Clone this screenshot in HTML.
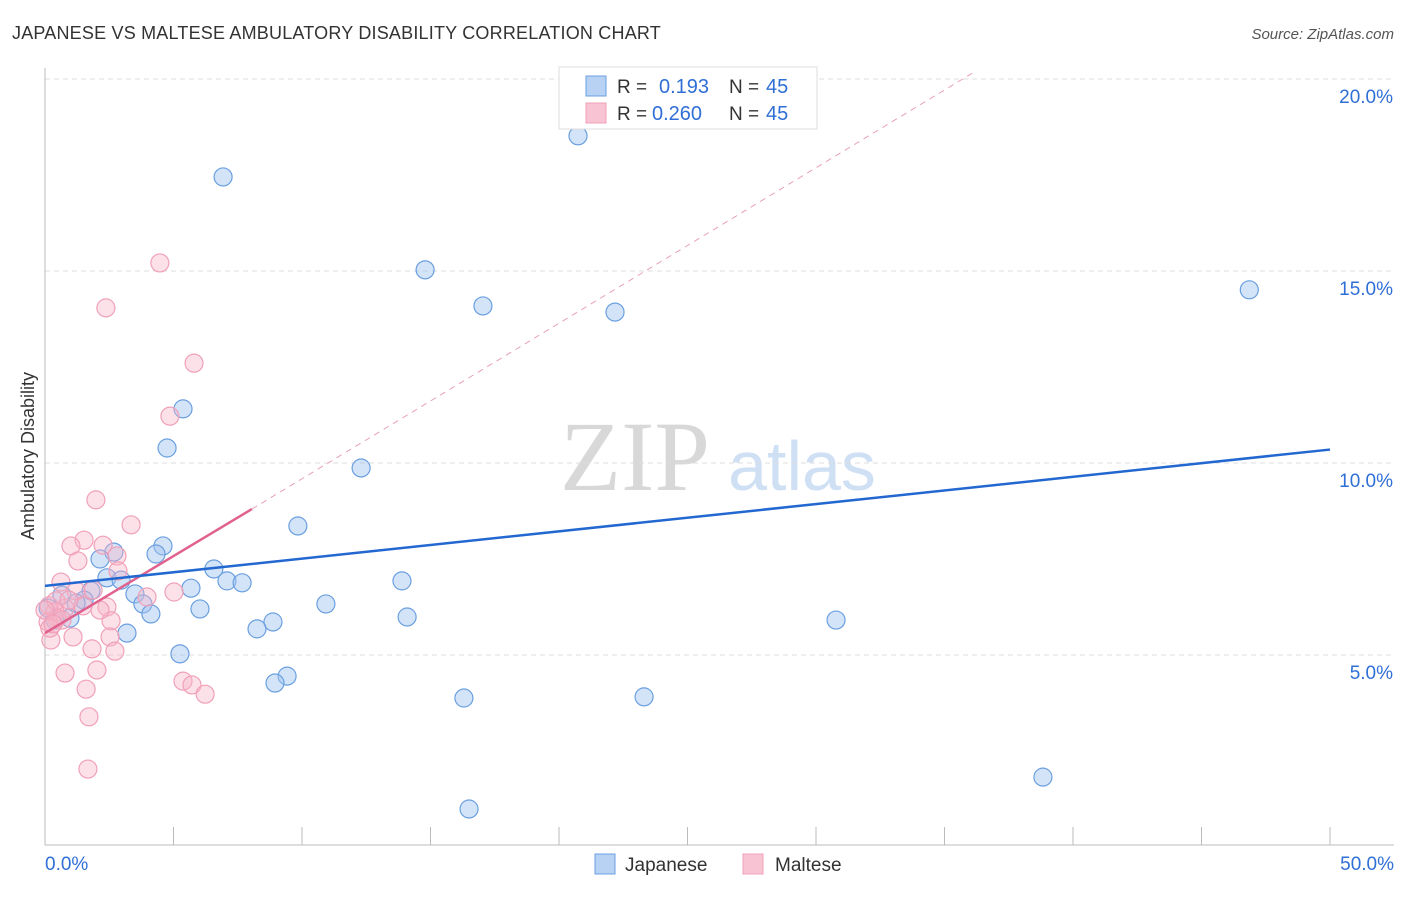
<!DOCTYPE html>
<html><head><meta charset="utf-8"><style>
body{margin:0;background:#fff;font-family:"Liberation Sans",sans-serif;}
svg text{font-family:"Liberation Sans",sans-serif;}
</style></head><body>
<svg id="c" width="1406" height="892" xmlns="http://www.w3.org/2000/svg">
<text x="12" y="39" font-size="18" fill="#333" letter-spacing="0.2">JAPANESE VS MALTESE AMBULATORY DISABILITY CORRELATION CHART</text>
<text x="1394" y="39" font-size="15" fill="#555" font-style="italic" text-anchor="end">Source: ZipAtlas.com</text>
<text x="635" y="490" font-size="100" fill="#d8d8d8" style="font-family:'Liberation Serif',serif" text-anchor="middle">ZIP</text>
<text x="802" y="490" font-size="70" fill="#cfe0f5" text-anchor="middle">atlas</text>
<text x="34" y="456" font-size="18" fill="#333" text-anchor="middle" transform="rotate(-90 34 456)">Ambulatory Disability</text>
<g id="grid"></g><g id="marks"></g>
<g>
<rect x="559" y="67" width="258" height="62" fill="#fff" stroke="#ddd"/>
<rect x="586" y="76" width="20" height="20" fill="#b8d2f4" stroke="#6a9fe0"/>
<rect x="586" y="103" width="20" height="20" fill="#f8c4d4" stroke="#f0a0b8"/>
<text x="617" y="93" font-size="19" fill="#333">R =</text>
<text x="659" y="93" font-size="20" fill="#2f6fd6">0.193</text>
<text x="729" y="93" font-size="19" fill="#333">N =</text>
<text x="766" y="93" font-size="20" fill="#2f6fd6">45</text>
<text x="617" y="120" font-size="19" fill="#333">R =</text>
<text x="652" y="120" font-size="20" fill="#2f6fd6">0.260</text>
<text x="729" y="120" font-size="19" fill="#333">N =</text>
<text x="766" y="120" font-size="20" fill="#2f6fd6">45</text>
</g>
<g>
<rect x="595" y="854" width="20" height="20" fill="#b8d2f4" stroke="#6a9fe0"/>
<text x="625" y="871" font-size="19" fill="#333">Japanese</text>
<rect x="743" y="854" width="20" height="20" fill="#f8c4d4" stroke="#f0a0b8"/>
<text x="775" y="871" font-size="19" fill="#333">Maltese</text>
</g>
</svg>
<script>
const yTicks=[5,10,15,20];
const xTickLabels=["0.0%","50.0%"];
const japaneseX=[6.93,20.74,14.79,17.04,22.18,46.86,5.37,4.75,12.30,9.84,4.59,4.32,2.68,2.14,2.41,2.96,6.57,7.08,7.67,5.68,3.50,1.79,0.66,3.81,4.12,6.03,10.93,13.89,14.09,30.78,8.87,8.25,3.19,5.25,9.42,8.95,16.30,23.31,38.83,16.50,1.52,0.97,0.39,0.12,1.21];
const japaneseY=[17.45,18.52,15.03,14.09,13.93,14.51,11.41,10.39,9.87,8.36,7.84,7.63,7.68,7.50,7.01,6.95,7.24,6.93,6.88,6.74,6.59,6.67,6.56,6.33,6.07,6.20,6.33,6.93,5.99,5.91,5.86,5.68,5.57,5.03,4.45,4.27,3.88,3.91,1.82,0.99,6.43,5.96,5.91,6.22,6.35];
const malteseX=[4.47,2.37,5.80,4.86,1.98,3.35,1.52,1.01,2.26,1.28,2.80,2.84,0.62,1.21,1.87,3.97,5.02,2.41,1.48,0.78,2.57,2.53,2.72,1.83,1.09,0.23,0.16,0.39,0.47,0.12,0.66,0.19,0.78,2.02,1.60,5.37,5.72,6.23,1.71,1.67,0.43,0.0,0.93,2.14,0.31];
const malteseY=[15.21,14.04,12.60,11.22,9.04,8.39,7.99,7.84,7.86,7.45,7.58,7.19,6.90,6.67,6.69,6.51,6.64,6.25,6.28,6.22,5.89,5.47,5.10,5.16,5.47,5.39,6.28,6.12,5.96,5.86,5.91,5.70,4.53,4.61,4.11,4.32,4.22,3.98,3.39,2.03,6.41,6.17,6.43,6.17,5.81];
const jTrend=[6.8,10.35], mTrend=[5.57,8.8], mDashEnd=[36.2,20.2];
const X=v=>45+v/50*1285, Y=v=>847-v*38.4;
const NS="http://www.w3.org/2000/svg";
const grid=document.getElementById('grid'), marks=document.getElementById('marks');
function mk(tag,attrs,parent){const e=document.createElementNS(NS,tag);for(const k in attrs)e.setAttribute(k,attrs[k]);parent.appendChild(e);return e;}
yTicks.forEach(t=>{
 const l=mk('line',{x1:45,x2:1394,y1:Y(t),y2:Y(t),stroke:'#ddd','stroke-dasharray':'5,4'},grid);
 
 
 const tx=mk('text',{x:1393,y:Y(t)+24,'font-size':19,fill:'#2f6fd6','text-anchor':'end'},grid);
 tx.textContent=t.toFixed(1)+'%';
 
 
});
const ax=mk('line',{x1:45,x2:1394,y1:845,y2:845,stroke:'#bbb'},grid);


const ay=mk('line',{x1:45,x2:45,y1:68,y2:845,stroke:'#bbb'},grid);


for(let i=0;i<=10;i++){const t=mk('line',{x1:X(i*5),x2:X(i*5),y1:827,y2:845,stroke:'#bbb'},grid);
 
 }
[[0,xTickLabels[0],'start',45],[50,xTickLabels[1],'end',1394]].forEach(a=>{const t=mk('text',{x:a[3],y:870,'font-size':19,fill:'#2f6fd6','text-anchor':a[2]},grid);t.textContent=a[1];
 
 });
japaneseX.forEach((v,i)=>{const c=mk('circle',{cx:X(v),cy:Y(japaneseY[i]),r:9,fill:'rgba(160,196,240,0.45)',stroke:'#6a9fe0','stroke-width':1.2},marks);
 
 });
malteseX.forEach((v,i)=>{const c=mk('circle',{cx:X(v),cy:Y(malteseY[i]),r:9,fill:'rgba(248,180,200,0.4)',stroke:'#f0a0b8','stroke-width':1.2},marks);
 
 });
const d=mk('line',{x1:X(8.05),y1:Y(mTrend[1]),x2:X(mDashEnd[0]),y2:Y(mDashEnd[1]),stroke:'#e8a0b8','stroke-dasharray':'6,5'},marks);


const m=mk('line',{x1:X(0),y1:Y(mTrend[0]),x2:X(8.05),y2:Y(mTrend[1]),stroke:'#e0608e','stroke-width':2.5},marks);


const j=mk('line',{x1:X(0),y1:Y(jTrend[0]),x2:X(50),y2:Y(jTrend[1]),stroke:'#2268d0','stroke-width':2.5},marks);


</script>
</body></html>
